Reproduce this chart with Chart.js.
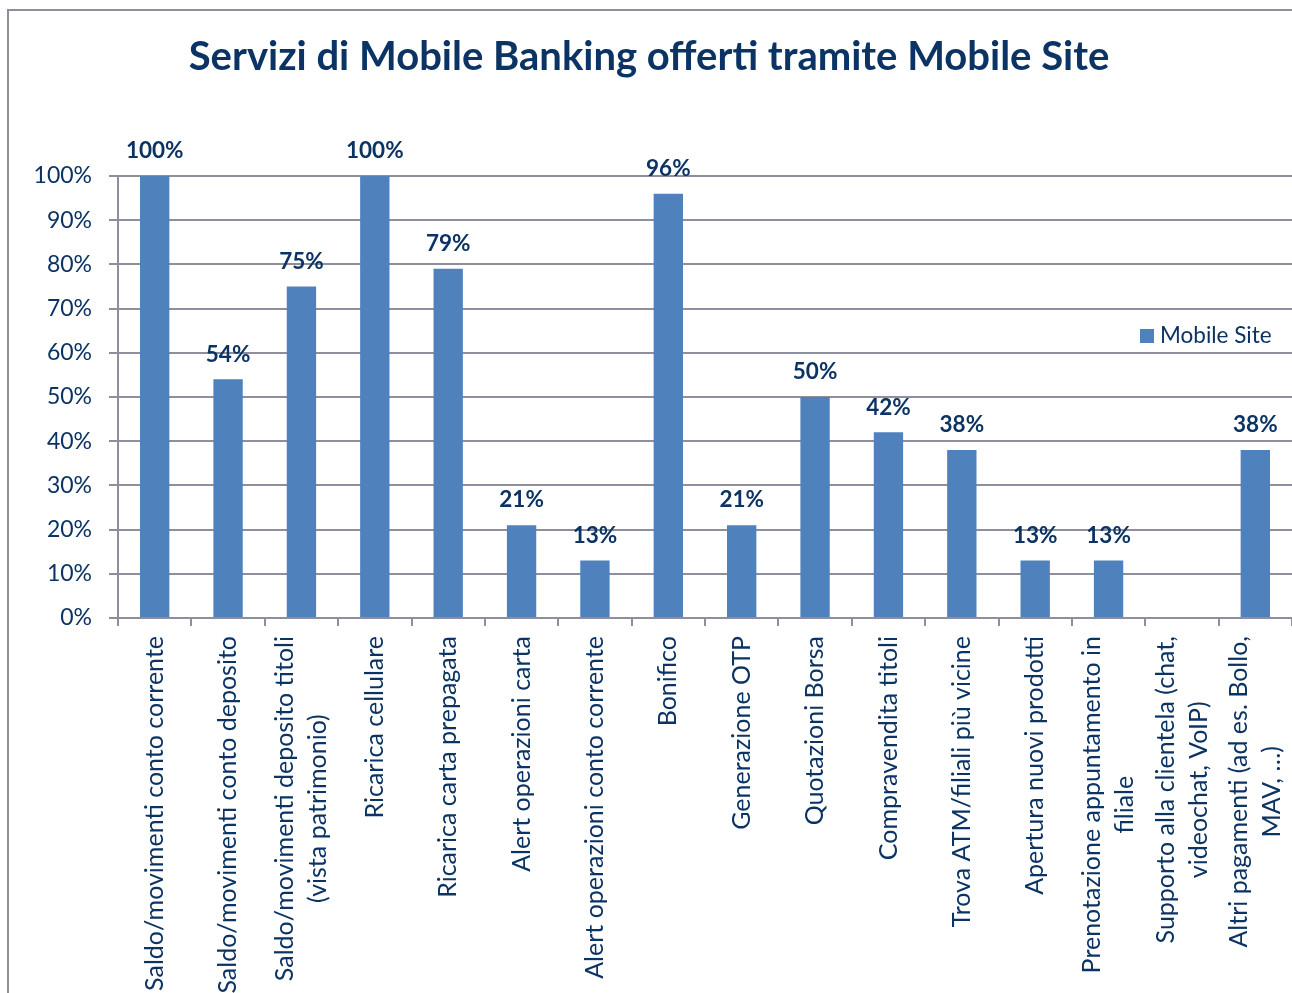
<!DOCTYPE html>
<html lang="it">
<head>
  <meta charset="UTF-8">
  <title>Servizi di Mobile Banking offerti tramite Mobile Site</title>
  <script src="https://cdn.jsdelivr.net/npm/chart.js"></script>
  <style>
    body, html {
      margin: 0;
      padding: 0;
      background: #ffffff;
    }
    canvas {
      display: block;
    }
  </style>
</head>
<body>
  <canvas id="grafico" width="1292" height="993"></canvas>
  <script>
    // Categorie (righe multiple per le etichette lunghe)
    const categorie = [
      ["Saldo/movimenti conto corrente"],
      ["Saldo/movimenti conto deposito"],
      ["Saldo/movimenti deposito titoli", "(vista patrimonio)"],
      ["Ricarica cellulare"],
      ["Ricarica carta prepagata"],
      ["Alert operazioni carta"],
      ["Alert operazioni conto corrente"],
      ["Bonifico"],
      ["Generazione OTP"],
      ["Quotazioni Borsa"],
      ["Compravendita titoli"],
      ["Trova ATM/filiali più vicine"],
      ["Apertura nuovi prodotti"],
      ["Prenotazione appuntamento in", "filiale"],
      ["Supporto alla clientela (chat,", "videochat, VoIP)"],
      ["Altri pagamenti (ad es. Bollo,", "MAV, …)"]
    ];
    const mobileSite = [100, 54, 75, 100, 79, 21, 13, 96, 21, 50, 42, 38, 13, 13, 0, 38];
    const tickPercentuali = [0, 10, 20, 30, 40, 50, 60, 70, 80, 90, 100];

    const BLU = "#4F81BD";
    const TESTO = "#0B3363";
    const GRIGIO = "#8E8E9C";
    const FONT = "Lato";

    // cornice esterna
    const cornice = {
      id: "cornice",
      beforeDraw(chart) {
        const c = chart.ctx;
        c.save();
        c.strokeStyle = GRIGIO;
        c.lineWidth = 2;
        c.beginPath();
        c.moveTo(8, chart.height + 5);
        c.lineTo(8, 10);
        c.lineTo(chart.width + 5, 10);
        c.stroke();
        c.restore();
      }
    };

    // percentuali sopra le barre
    const etichetteValori = {
      id: "etichetteValori",
      afterDatasetsDraw(chart) {
        const c = chart.ctx;
        const meta = chart.getDatasetMeta(0);
        c.save();
        c.font = "bold 22.5px " + FONT;
        c.fillStyle = TESTO;
        c.textAlign = "center";
        c.textBaseline = "middle";
        meta.data.forEach((bar, i) => {
          const v = chart.data.datasets[0].data[i];
          if (!v) return;
          c.fillText(v + "%", bar.x, bar.y - 25);
        });
        c.restore();
      }
    };

    // etichette dell'asse x ruotate, righe centrate nel blocco
    const etichetteCategorie = {
      id: "etichetteCategorie",
      afterDraw(chart) {
        const c = chart.ctx;
        const x = chart.scales.x;
        const lineH = 33;
        c.save();
        c.font = "25px " + FONT;
        c.fillStyle = TESTO;
        c.textAlign = "center";
        c.textBaseline = "middle";
        chart.data.labels.forEach((righe, i) => {
          const cx = x.getPixelForValue(i);
          const larg = Math.max(...righe.map(r => c.measureText(r).width));
          c.save();
          c.translate(cx, x.top + 18);
          c.rotate(-Math.PI / 2);
          righe.forEach((r, j) => {
            c.fillText(r, -larg / 2, (j - (righe.length - 1) / 2) * lineH);
          });
          c.restore();
        });
        c.restore();
      }
    };

    // legenda dentro l'area del grafico, in alto a destra
    const legendaInterna = {
      id: "legendaInterna",
      afterDraw(chart) {
        const c = chart.ctx;
        const ds = chart.data.datasets[0];
        c.save();
        c.fillStyle = ds.backgroundColor;
        c.fillRect(1140, 329, 14, 14);
        c.font = "22.5px " + FONT;
        c.fillStyle = TESTO;
        c.textAlign = "left";
        c.textBaseline = "middle";
        c.fillText(ds.label, 1160, 336);
        c.restore();
      }
    };

    new Chart(document.getElementById("grafico"), {
      type: "bar",
      data: {
        labels: categorie,
        datasets: [{
          label: "Mobile Site",
          data: mobileSite,
          backgroundColor: BLU,
          barPercentage: 0.4,
          categoryPercentage: 1
        }]
      },
      options: {
        responsive: false,
        animation: false,
        devicePixelRatio: 1,
        layout: { padding: { left: 6, top: 0, right: 0, bottom: 0 } },
        plugins: {
          legend: { display: false },
          tooltip: { enabled: false },
          title: {
            display: true,
            text: "Servizi di Mobile Banking offerti tramite Mobile Site",
            color: TESTO,
            font: { family: FONT, size: 40, weight: "bold", lineHeight: 1.2 },
            padding: { top: 33, bottom: 95 }
          }
        },
        scales: {
          x: {
            offset: true,
            grid: {
              offset: true,
              drawOnChartArea: false,
              drawTicks: true,
              tickLength: 8,
              color: GRIGIO,
              lineWidth: 2
            },
            border: { color: GRIGIO, width: 2 },
            ticks: { display: false },
            afterFit(scale) { scale.height = 375; }
          },
          y: {
            min: 0,
            max: 100,
            afterBuildTicks(scale) {
              scale.ticks = tickPercentuali.map(v => ({ value: v }));
            },
            grid: {
              color: GRIGIO,
              lineWidth: 2,
              tickLength: 9
            },
            border: { color: GRIGIO, width: 2 },
            ticks: {
              padding: 17,
              color: TESTO,
              font: { family: FONT, size: 23 },
              callback: v => v + "%"
            },
            afterFit(scale) { scale.width = 112; }
          }
        }
      },
      plugins: [cornice, etichetteValori, etichetteCategorie, legendaInterna]
    });
  </script>
</body>
</html>
